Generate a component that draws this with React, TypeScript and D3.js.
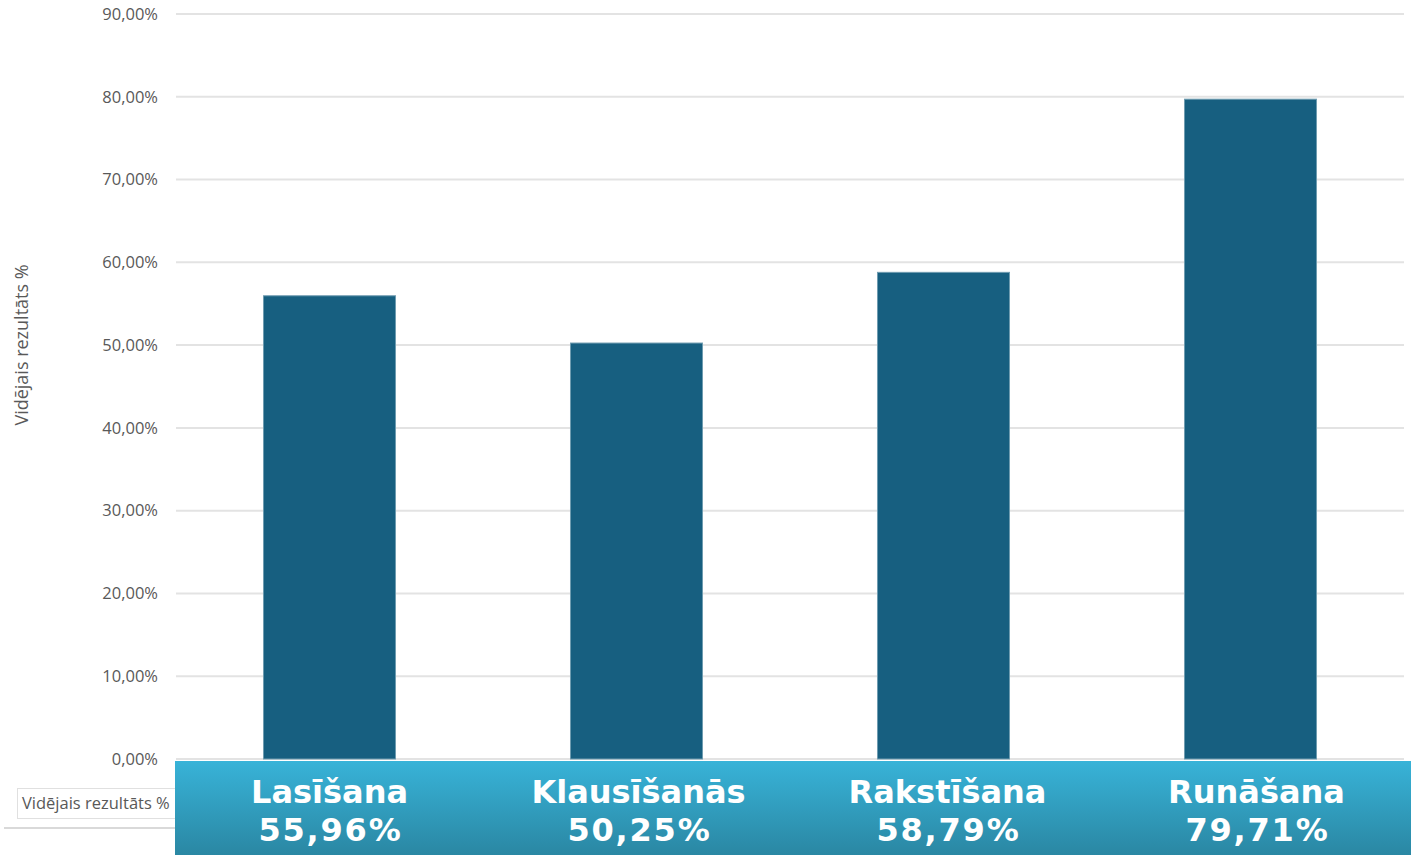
import React from "react";
import * as d3 from "d3";

const categories = ["Lasīšana", "Klausīšanās", "Rakstīšana", "Runāšana"];
const values = [55.96, 50.25, 58.79, 79.71];
const labels = ["55,96%", "50,25%", "58,79%", "79,71%"];
const yTicks = [0, 10, 20, 30, 40, 50, 60, 70, 80, 90];
const axisTitle = "Vidējais rezultāts %";

export default function App() {
  const W = 1412, H = 855;
  const left = 176, right = 1404, top = 14, bottom = 759;
  const x = d3.scaleBand<string>().domain(categories).range([left, right]).paddingInner(0.57).paddingOuter(0.285);
  const xb = d3.scaleBand<string>().domain(categories).range([175, 1411]);
  const y = d3.scaleLinear().domain([0, 90]).range([bottom, top]);
  const fmt = (v: number) => v.toFixed(2).replace(".", ",") + "%";
  const font = "'Open Sans', 'Noto Sans', sans-serif";
  const bold = "'DejaVu Sans', Verdana, sans-serif";
  return (
    <svg width={W} height={H} style={{ position: "absolute", left: 0, top: 0 }}>
      <defs>
        <linearGradient id="boxg" x1="0" y1="0" x2="0" y2="1">
          <stop offset="0" stopColor="#38b3d8" />
          <stop offset="1" stopColor="#2a87a3" />
        </linearGradient>
      </defs>
      <rect width={W} height={H} fill="#fff" />
      {yTicks.map((t) => (
        <g key={t}>
          <line x1={left} x2={right} y1={y(t)} y2={y(t)} stroke="#e3e3e3" strokeWidth={2} />
          <text x={158} y={y(t)} dy="0.35em" textAnchor="end" fontFamily={font} fontSize={16.5} fill="#595959">
            {fmt(t)}
          </text>
        </g>
      ))}
      <text transform={`translate(28,345) rotate(-90)`} textAnchor="middle" fontFamily={font} fontSize={18} fill="#595959">
        {axisTitle}
      </text>
      {categories.map((c, i) => (
        <rect key={c} x={x(c)} y={y(values[i])} width={x.bandwidth()} height={bottom - y(values[i])} fill="#175f80" stroke="#6f9cb0" strokeWidth={1} />
      ))}
      <rect x={17.5} y={788.5} width={158} height={30} fill="#fff" stroke="#e0e0e0" />
      <text x={22} y={809} fontFamily={font} fontSize={16.5} fill="#595959">{axisTitle}</text>
      <line x1={4} x2={176} y1={828} y2={828} stroke="#d9d9d9" strokeWidth={2} />
      <rect x={175} y={761} width={1236} height={94} fill="url(#boxg)" />
      {categories.map((c, i) => {
        const cx = (xb(c) as number) + xb.bandwidth() / 2;
        return (
          <g key={c}>
            <text x={cx} y={803} textAnchor="middle" fontFamily={bold} fontWeight="bold" fontSize={32} fill="#fff">{c}</text>
            <text x={cx + 1} y={841} textAnchor="middle" fontFamily={bold} fontWeight="bold" fontSize={32} letterSpacing={1.8} fill="#fff">{labels[i]}</text>
          </g>
        );
      })}
    </svg>
  );
}
